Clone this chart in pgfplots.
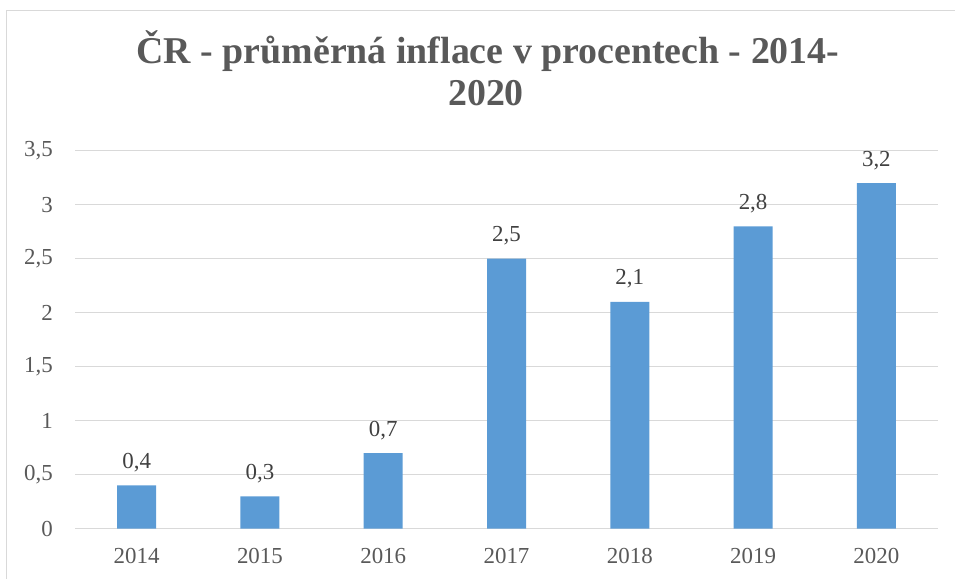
\documentclass[border=0pt]{standalone}
\usepackage{pgfplots}
\pgfplotsset{compat=1.18}
\usepackage{fontspec}
\setmainfont{Liberation Serif}
\definecolor{barblue}{HTML}{5B9BD5}
\definecolor{gridgray}{HTML}{D9D9D9}
\definecolor{txtgray}{HTML}{595959}
\definecolor{lblgray}{HTML}{404040}
\begin{document}
\begin{tikzpicture}[x=1bp,y=1bp]
\useasboundingbox (0,0) rectangle (955,579);
\draw[gridgray, line width=1.5bp] (6.5,-20) -- (6.5,568.5) -- (980,568.5);
\node[anchor=base, font=\fontsize{38}{42}\selectfont\bfseries, text=txtgray, inner sep=0pt] at (488,515.7) {ČR - průměrná inflace v procentech - 2014-};
\node[anchor=base, font=\fontsize{38}{42}\selectfont\bfseries, text=txtgray, inner sep=0pt] at (486,473) {2020};
\begin{axis}[
  at={(75bp,50.3bp)}, anchor=south west,
  scale only axis, width=863bp, height=378bp,
  xmin=-0.5, xmax=6.5, ymin=0, ymax=3.5,
  xtick={0,1,2,3,4,5,6},
  xticklabels={2014,2015,2016,2017,2018,2019,2020},
  ytick={0,0.5,1,1.5,2,2.5,3,3.5},
  /pgf/number format/use comma,
  /pgf/number format/assume math mode=true,
  ymajorgrids, grid style={gridgray, line width=1.2bp},
  axis line style={draw=none},
  major tick length=0pt,
  tick label style={font=\fontsize{23}{26}\selectfont, text=txtgray, inner sep=0pt},
  yticklabel style={anchor=east, xshift=-22bp},
  xticklabel style={anchor=north, yshift=-19bp},
  clip=false,
]
\addplot[ybar, bar width=39bp, fill=barblue, draw=none,
  nodes near coords,
  nodes near coords style={anchor=base, yshift=17bp, inner sep=0pt, font=\fontsize{23}{26}\selectfont, text=lblgray, /pgf/number format/use comma, /pgf/number format/assume math mode=true},
] coordinates {(0,0.4) (1,0.3) (2,0.7) (3,2.5) (4,2.1) (5,2.8) (6,3.2)};
\end{axis}
\end{tikzpicture}
\end{document}
